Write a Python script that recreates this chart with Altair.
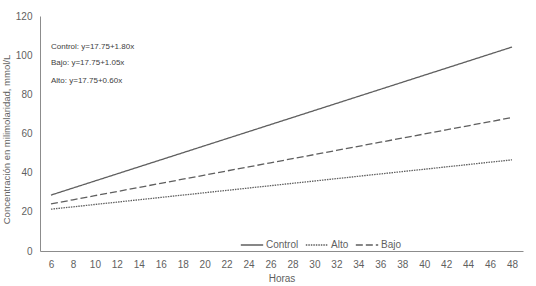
import altair as alt
import pandas as pd

horas = [6, 8, 10, 12, 14, 16, 18, 20, 22, 24, 26, 28, 30, 32, 34, 36, 38, 40, 42, 44, 46, 48]
control = [28.55, 32.15, 35.75, 39.35, 42.95, 46.55, 50.15, 53.75, 57.35, 60.95, 64.55,
           68.15, 71.75, 75.35, 78.95, 82.55, 86.15, 89.75, 93.35, 96.95, 100.55, 104.15]
bajo = [24.05, 26.15, 28.25, 30.35, 32.45, 34.55, 36.65, 38.75, 40.85, 42.95, 45.05,
        47.15, 49.25, 51.35, 53.45, 55.55, 57.65, 59.75, 61.85, 63.95, 66.05, 68.15]
alto = [21.35, 22.55, 23.75, 24.95, 26.15, 27.35, 28.55, 29.75, 30.95, 32.15, 33.35,
        34.55, 35.75, 36.95, 38.15, 39.35, 40.55, 41.75, 42.95, 44.15, 45.35, 46.55]
y_ticks = [0, 20, 40, 60, 80, 100, 120]

series_order = ["Control", "Alto", "Bajo"]
series_dash = [[1, 0], [1.5, 1], [7, 3]]

ann_text = ["Control: y=17.75+1.80x", "Bajo: y=17.75+1.05x", "Alto: y=17.75+0.60x"]
ann_x = [6, 6, 6]
ann_y = [104.2, 96.0, 86.8]

rows = []
for name, vals in [("Control", control), ("Alto", alto), ("Bajo", bajo)]:
    for h, v in zip(horas, vals):
        rows.append({"Horas": h, "valor": v, "serie": name})
df = pd.DataFrame(rows)
ann = pd.DataFrame({"Horas": ann_x, "valor": ann_y, "t": ann_text})

grey = "#5f5f5f"
font = "Liberation Sans"

x_enc = alt.X("Horas:Q",
              scale=alt.Scale(domain=[5, 49], nice=False, zero=False),
              axis=alt.Axis(values=horas, title="Horas", grid=False, ticks=False,
                            labelOverlap=False,
                            labelFont=font, labelFontSize=10, labelColor=grey,
                            titleFont=font, titleFontSize=10, titleColor=grey,
                            titleFontWeight="normal", domainColor="#8c8c8c",
                            labelPadding=8, titlePadding=4))
y_enc = alt.Y("valor:Q",
              scale=alt.Scale(domain=[0, 120], nice=False),
              axis=alt.Axis(values=y_ticks,
                            title="Concentración en milimolaridad, mmol/L",
                            grid=False, ticks=False, labelPadding=8,
                            labelOverlap=False,
                            labelFont=font, labelFontSize=10, labelColor=grey,
                            titleFont=font, titleFontSize=9.5, titleColor=grey,
                            titleFontWeight="normal", domainColor="#8c8c8c",
                            titlePadding=4, titleY=123))

lines = alt.Chart(df).mark_line(strokeWidth=1.3, color=grey).encode(
    x=x_enc,
    y=y_enc,
    strokeDash=alt.StrokeDash("serie:N",
                              scale=alt.Scale(domain=series_order, range=series_dash),
                              sort=series_order,
                              legend=alt.Legend(title=None, orient="none",
                                                legendX=200, legendY=217,
                                                direction="horizontal",
                                                symbolType="stroke",
                                                symbolSize=500,
                                                symbolStrokeColor=grey,
                                                symbolStrokeWidth=1.3,
                                                labelFont=font, labelFontSize=10,
                                                labelColor=grey, labelOffset=2,
                                                columnPadding=4)),
)

texts = alt.Chart(ann).mark_text(align="left", baseline="middle", font=font,
                                 fontSize=8, color="#404040").encode(
    x=x_enc, y=y_enc, text="t:N"
)

chart = alt.layer(lines, texts).properties(
    width=483, height=235,
    padding={"left": 40, "top": 16, "right": 13, "bottom": 35},
    autosize=alt.AutoSizeParams(type="none"),
    background="white",
).configure_view(stroke=None).configure_axis(labelOverlap=False)

chart.save("out.html", embed_options={"renderer": "svg", "actions": False})
